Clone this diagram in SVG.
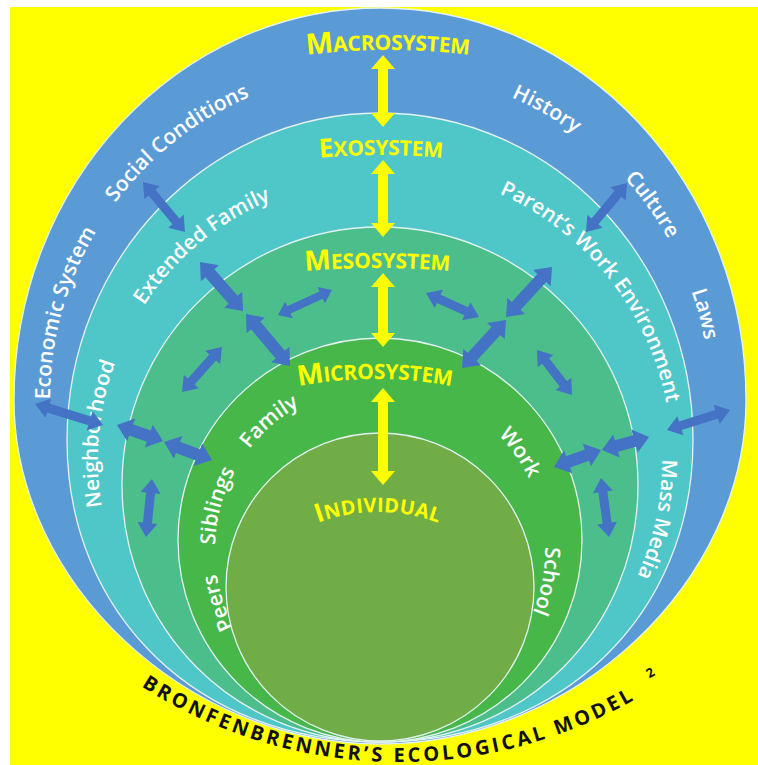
<svg xmlns="http://www.w3.org/2000/svg" xmlns:xlink="http://www.w3.org/1999/xlink" width="758" height="765" viewBox="0 0 758 765">
<style>
.band{stroke:#E4F3F2;stroke-width:1.3}
.wl{font-family:"Open Sans","Liberation Sans",sans-serif;font-weight:600;font-size:21px;fill:#FFFFFF}
.yl{font-family:"Open Sans","Liberation Sans",sans-serif;font-weight:700;fill:#FFFF00}
.ba{fill:#4472C4}
.ya{fill:#FFFF00}
.title{font-family:"Open Sans","Liberation Sans",sans-serif;font-weight:700;font-size:20px;fill:#111111}
</style>
<defs>
<path id="p-macro" d="M380,730 A330,330 0 1 1 380,70 A330,330 0 1 1 380,730"/>
<path id="p-exo" d="M380,742 A282,282 0 1 1 380,178 A282,282 0 1 1 380,742"/>
<path id="p-exo2" d="M380,752 A292,292 0 1 1 380,168 A292,292 0 1 1 380,752"/>
<path id="p-micro" d="M380,715 A165,165 0 1 1 380,385 A165,165 0 1 1 380,715"/>
<path id="p-title" d="M-13.2,524 A476,476 0 0 0 811.2,524"/>
<path id="y-macro" d="M290,57 Q388,43 486,57"/>
<path id="y-exo" d="M300,160 Q381,150 462,160"/>
<path id="y-meso" d="M285,273 Q377,263 470,273"/>
<path id="y-micro" d="M280,390 Q375,368 470,390"/>
<path id="y-ind" d="M300,530 Q378,494 456,530"/>
</defs>
<rect x="0" y="0" width="758" height="765" fill="#FFFFFF"/>
<rect x="10" y="7" width="748" height="758" fill="#FFFF00"/>

<g id="macrosystem">
<path class="band" fill="#5B9BD5" d="M380,8 C582,8 746,183.6 746,400 C746,582.3 574,744 380,744 C186,744 14,582.3 14,400 C14,183.6 178,8 380,8 Z"/>
<text class="yl"><textPath xlink:href="#y-macro" href="#y-macro" startOffset="50%" text-anchor="middle" textLength="163"><tspan font-size="29">M</tspan><tspan font-size="21">ACROSYSTEM</tspan></textPath></text>
<text class="wl"><textPath href="#p-macro" xlink:href="#p-macro" startOffset="607" text-anchor="middle">Economic System</textPath></text>
<text class="wl"><textPath href="#p-macro" xlink:href="#p-macro" startOffset="816" text-anchor="middle">Social Conditions</textPath></text>
<text class="wl"><textPath href="#p-macro" xlink:href="#p-macro" startOffset="1208" text-anchor="middle">History</textPath></text>
<text class="wl"><textPath href="#p-macro" xlink:href="#p-macro" startOffset="1349" text-anchor="middle">Culture</textPath></text>
<text class="wl"><textPath href="#p-macro" xlink:href="#p-macro" startOffset="1469" text-anchor="middle">Laws</textPath></text>
</g>

<g id="exosystem">
<path class="band" fill="#4FC6C8" d="M380,113 C552.8,113 693,259.5 693,440 C693,615.2 561.5,742 380,742 C198.5,742 67,615.2 67,440 C67,259.5 207.2,113 380,113 Z"/>
<text class="yl"><textPath href="#y-exo" xlink:href="#y-exo" startOffset="50%" text-anchor="middle" textLength="123"><tspan font-size="26">E</tspan><tspan font-size="21">XOSYSTEM</tspan></textPath></text>
<text class="wl"><textPath href="#p-exo" xlink:href="#p-exo" startOffset="469" text-anchor="middle">Neighborhood</textPath></text>
<text class="wl"><textPath href="#p-exo" xlink:href="#p-exo" startOffset="690" text-anchor="middle">Extended Family</textPath></text>
<text class="wl"><textPath href="#p-exo2" xlink:href="#p-exo2" startOffset="1179" text-anchor="middle">Parent’s Work Environment</textPath></text>
<text class="wl"><textPath href="#p-exo" xlink:href="#p-exo" startOffset="1388" text-anchor="middle">Mass Media</textPath></text>
</g>

<g id="mesosystem">
<path class="band" fill="#4CBE8B" d="M380,227 C522.4,227 638,342.6 638,485 C638,628.9 524.5,742 380,742 C235.5,742 122,628.9 122,485 C122,342.6 237.6,227 380,227 Z"/>
<text class="yl"><textPath href="#y-meso" xlink:href="#y-meso" startOffset="50%" text-anchor="middle" textLength="145"><tspan font-size="28">M</tspan><tspan font-size="21">ESOSYSTEM</tspan></textPath></text>
</g>

<g id="microsystem">
<circle class="band" fill="#47B74A" cx="380" cy="540" r="202"/>
<text class="yl"><textPath href="#y-micro" xlink:href="#y-micro" startOffset="50%" text-anchor="middle" textLength="154"><tspan font-size="28">M</tspan><tspan font-size="21">ICROSYSTEM</tspan></textPath></text>
<text class="wl"><textPath href="#p-micro" xlink:href="#p-micro" startOffset="401" text-anchor="middle">Family</textPath></text>
<text class="wl"><textPath href="#p-micro" xlink:href="#p-micro" startOffset="303" text-anchor="middle">Siblings</textPath></text>
<text class="wl"><textPath href="#p-micro" xlink:href="#p-micro" startOffset="207" text-anchor="middle">Peers</textPath></text>
<text class="wl"><textPath href="#p-micro" xlink:href="#p-micro" startOffset="677" text-anchor="middle">Work</textPath></text>
<text class="wl"><textPath href="#p-micro" xlink:href="#p-micro" startOffset="808" text-anchor="middle">School</textPath></text>
</g>

<g id="individual">
<circle class="band" fill="#70AD47" cx="380" cy="587" r="154"/>
<text class="yl"><textPath href="#y-ind" xlink:href="#y-ind" startOffset="50%" text-anchor="middle" textLength="123"><tspan font-size="26">I</tspan><tspan font-size="20">NDIVIDUAL</tspan></textPath></text>
</g>

<g id="connectors">
<path class="ya" d="M383,55 L395,69 L388,69 L388,113 L395,113 L383,127 L371,113 L378,113 L378,69 L371,69 Z"/>
<path class="ya" d="M383,160 L395,174 L388,174 L388,223 L395,223 L383,237 L371,223 L378,223 L378,174 L371,174 Z"/>
<path class="ya" d="M383,273 L395,287 L388,287 L388,333 L395,333 L383,347 L371,333 L378,333 L378,287 L371,287 Z"/>
<path class="ya" d="M383,388 L395,402 L388,402 L388,471 L395,471 L383,485 L371,471 L378,471 L378,402 L371,402 Z"/>

<path class="ba" transform="translate(143 182) rotate(50)" d="M0,0 L14,-10 L14,-4.5 L51.3,-4.5 L51.3,-10 L65.3,0 L51.3,10 L51.3,4.5 L14,4.5 L14,10 Z"/>
<path class="ba" transform="translate(200 262) rotate(48.7)" d="M0,0 L15,-12 L15,-6 L50.2,-6 L50.2,-12 L65.2,0 L50.2,12 L50.2,6 L15,6 L15,12 Z"/>
<path class="ba" transform="translate(246 314) rotate(49.8)" d="M0,0 L15,-12 L15,-6 L53.1,-6 L53.1,-12 L68.1,0 L53.1,12 L53.1,6 L15,6 L15,12 Z"/>
<path class="ba" transform="translate(278 315) rotate(-24.8)" d="M0,0 L12,-9 L12,-4 L47.5,-4 L47.5,-9 L59.5,0 L47.5,9 L47.5,4 L12,4 L12,9 Z"/>
<path class="ba" transform="translate(182 392) rotate(-48.4)" d="M0,0 L14,-10 L14,-4.5 L46.2,-4.5 L46.2,-10 L60.2,0 L46.2,10 L46.2,4.5 L14,4.5 L14,10 Z"/>
<path class="ba" transform="translate(627 183) rotate(129.9)" d="M0,0 L14,-10 L14,-4.5 L49.9,-4.5 L49.9,-10 L63.9,0 L49.9,10 L49.9,4.5 L14,4.5 L14,10 Z"/>
<path class="ba" transform="translate(426 293) rotate(24.4)" d="M0,0 L14,-10 L14,-4.5 L44.2,-4.5 L44.2,-10 L58.2,0 L44.2,10 L44.2,4.5 L14,4.5 L14,10 Z"/>
<path class="ba" transform="translate(552 267) rotate(132.6)" d="M0,0 L15,-12 L15,-6 L52.9,-6 L52.9,-12 L67.9,0 L52.9,12 L52.9,6 L15,6 L15,12 Z"/>
<path class="ba" transform="translate(506 320) rotate(132.5)" d="M0,0 L15,-12 L15,-6 L50.1,-6 L50.1,-12 L65.1,0 L50.1,12 L50.1,6 L15,6 L15,12 Z"/>
<path class="ba" transform="translate(537 350) rotate(52.1)" d="M0,0 L14,-10 L14,-4.5 L43,-4.5 L43,-10 L57,0 L43,10 L43,4.5 L14,4.5 L14,10 Z"/>
<path class="ba" transform="translate(35 404) rotate(17.2)" d="M0,0 L14,-10 L14,-4.5 L57.2,-4.5 L57.2,-10 L71.2,0 L57.2,10 L57.2,4.5 L14,4.5 L14,10 Z"/>
<path class="ba" transform="translate(117 425) rotate(19.2)" d="M0,0 L15,-12 L15,-6 L33.7,-6 L33.7,-12 L48.7,0 L33.7,12 L33.7,6 L15,6 L15,12 Z"/>
<path class="ba" transform="translate(164 442) rotate(20.6)" d="M0,0 L15,-12 L15,-6 L36.3,-6 L36.3,-12 L51.3,0 L36.3,12 L36.3,6 L15,6 L15,12 Z"/>
<path class="ba" transform="translate(152 479) rotate(95.9)" d="M0,0 L14,-10 L14,-4.5 L44.3,-4.5 L44.3,-10 L58.3,0 L44.3,10 L44.3,4.5 L14,4.5 L14,10 Z"/>
<path class="ba" transform="translate(667 430) rotate(-17.6)" d="M0,0 L14,-10 L14,-4.5 L52.1,-4.5 L52.1,-10 L66.1,0 L52.1,10 L52.1,4.5 L14,4.5 L14,10 Z"/>
<path class="ba" transform="translate(554 467) rotate(-19.9)" d="M0,0 L15,-12 L15,-6 L35,-6 L35,-12 L50,0 L35,12 L35,6 L15,6 L15,12 Z"/>
<path class="ba" transform="translate(602 450) rotate(-15.5)" d="M0,0 L15,-12 L15,-6 L33.8,-6 L33.8,-12 L48.8,0 L33.8,12 L33.8,6 L15,6 L15,12 Z"/>
<path class="ba" transform="translate(601 478) rotate(82.3)" d="M0,0 L14,-10 L14,-4.5 L45.5,-4.5 L45.5,-10 L59.5,0 L45.5,10 L45.5,4.5 L14,4.5 L14,10 Z"/>
</g>

<g id="title">
<text class="title"><textPath href="#p-title" xlink:href="#p-title" startOffset="226" textLength="518" lengthAdjust="spacing">BRONFENBRENNER’S ECOLOGICAL MODEL</textPath></text>
<text class="title" style="font-size:13px" x="645" y="677" transform="rotate(-30 650 670)">2</text>
</g>
</svg>
